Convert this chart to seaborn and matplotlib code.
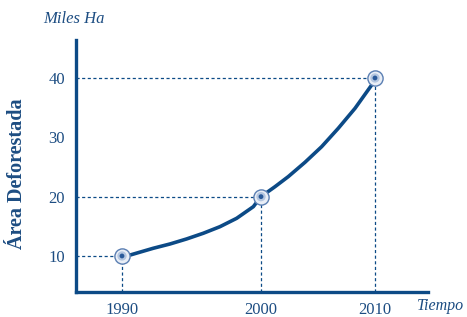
import numpy as np
import pandas as pd
import matplotlib
matplotlib.use("Agg")
import matplotlib.pyplot as plt
import seaborn as sns

# Data
years = [1990, 2000, 2010]
area = [10, 20, 40]
curve_years = [1990, 1990.6, 1992.25, 1993.45, 1994.65, 1995.85, 1997.05, 1998.25,
               1999.45, 2000, 2001.23, 2002.39, 2003.86, 2005.32, 2006.78, 2008.25,
               2009.71, 2010]
curve_area = [10, 10.17, 11.3, 12.02, 12.87, 13.83, 14.94, 16.35,
              18.31, 20, 21.68, 23.37, 25.79, 28.42, 31.52, 34.89,
              38.82, 40]
y_ticks = [10, 20, 30, 40]

BLUE = "#0c4a86"
TXT = "#1d4d82"

sns.set_theme(style="white")
plt.rcParams["font.family"] = ["Liberation Serif", "DejaVu Serif"]

fig = plt.figure(figsize=(4.67, 3.17), dpi=100)
ax = fig.add_axes([0.1627, 0.0789, 0.9165 - 0.1627, 0.8738 - 0.0789])

# non-uniform time axis as in the reference
def fwd(x):
    x = np.asarray(x, dtype=float)
    return np.where(x < 2000, (x - 1990) * 13.9, 139 + (x - 2000) * 11.4)

def inv(p):
    p = np.asarray(p, dtype=float)
    return np.where(p < 139, 1990 + p / 13.9, 2000 + (p - 139) / 11.4)

ax.set_xscale("function", functions=(fwd, inv))

df_curve = pd.DataFrame({"t": curve_years, "a": curve_area})
df_pts = pd.DataFrame({"t": years, "a": area})

xmin, xmax = 1986.69, 2014.65
ymin, ymax = 3.93, 46.4
ax.set_xlim(xmin, xmax)
ax.set_ylim(ymin, ymax)

for t, a in zip(years, area):
    ax.plot([xmin, t], [a, a], color=BLUE, lw=0.9, ls=(0, (2.5, 2)), zorder=1)
    ax.plot([t, t], [ymin, a], color=BLUE, lw=0.9, ls=(0, (2.5, 2)), zorder=1)

sns.lineplot(data=df_curve, x="t", y="a", color=BLUE, lw=2.6, ax=ax, zorder=2)
sns.scatterplot(data=df_pts, x="t", y="a", s=120, color="#e9eef6",
                edgecolor="#5b7fb3", linewidth=1.0, ax=ax, zorder=3)
sns.scatterplot(data=df_pts, x="t", y="a", s=45, color="#b4c6e0",
                edgecolor="none", ax=ax, zorder=4)
sns.scatterplot(data=df_pts, x="t", y="a", s=12, color="#2a5a9a",
                edgecolor="none", ax=ax, zorder=5)

ax.set_xticks(years)
ax.set_xticklabels([str(y) for y in years])
ax.set_yticks(y_ticks)
ax.set_yticklabels([str(v) for v in y_ticks])
ax.tick_params(axis="both", direction="out", length=6, width=2.2,
               color=BLUE, labelcolor=TXT, labelsize=12, pad=2)
ax.tick_params(axis="x", pad=1.5)

sns.despine(ax=ax)
for s in ["left", "bottom"]:
    ax.spines[s].set_color(BLUE)
    ax.spines[s].set_linewidth(2.4)

ax.set_xlabel("")
ax.set_ylabel("")
fig.text(0.037, 0.451, "Área Deforestada", rotation=90, ha="center", va="center",
         fontsize=14.5, fontweight="bold", color=TXT)
fig.text(0.092, 0.94, "Miles Ha", ha="left", va="center", fontsize=12,
         style="italic", color=TXT)
fig.text(0.994, 0.035, "Tiempo", ha="right", va="center", fontsize=11.5,
         style="italic", color=TXT)

fig.savefig("out.png", dpi=100)
